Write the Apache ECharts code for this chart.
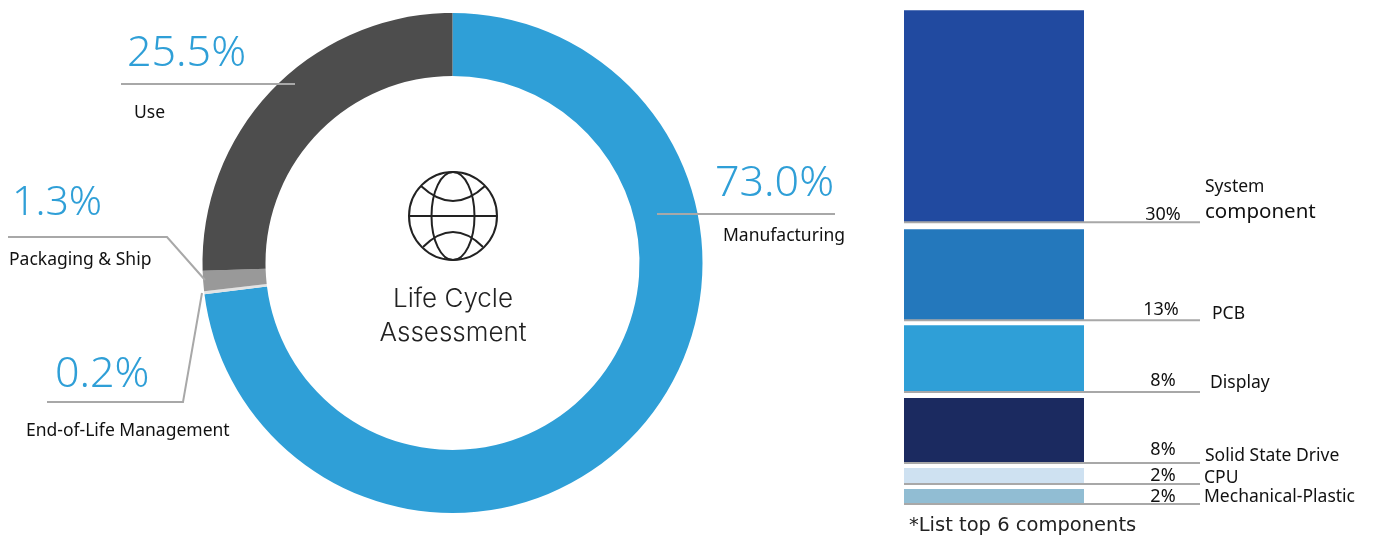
<!DOCTYPE html>
<html>
<head>
<meta charset="utf-8">
<title>Life Cycle Assessment</title>
<script src="https://cdn.jsdelivr.net/npm/echarts@6/dist/echarts.min.js"></script>
<style>
  html, body { margin: 0; padding: 0; background: #fff; }
  #main { width: 1373px; height: 538px; }
</style>
</head>
<body>
<div id="main"></div>
<script>
/* life cycle ring, clockwise from 12 o'clock */
var stageNames = ['Manufacturing', 'End-of-Life Management', 'Packaging & Ship', 'Use'];
var stageValues = [73.0, 0.2, 1.3, 25.5];

/* top 6 components, top of the column first */
var componentNames = ['System\ncomponent', 'PCB', 'Display', 'Solid State Drive', 'CPU', 'Mechanical-Plastic'];
var componentLabels = ['30%', '13%', '8%', '8%', '2%', '2%'];
// drawn block heights: the blocks are not strictly to scale
var componentHeights = [30, 12.88, 9.48, 9.2, 2.26, 2.12];
// white space under each block except the last, same units
var componentGaps = [0.99, 0.71, 0.85, 0.71, 0.71];

var stageColors = ['#2f9fd7', '#e3e3e3', '#999999', '#4d4d4d'];
var componentColors = ['#214aa0', '#2478bc', '#2f9fd7', '#1b2a60', '#cee1f1', '#91bdd3'];
var blue = '#2f9fd7';
var leaderColor = '#a8a8a8';
var bodyFont = '"Noto Sans"';
var axisMax = 69.96;

// where each ring label sits and how its leader runs
var stageLabelLayout = {
  'Manufacturing': { x: 713, y: 154, pctSize: 43, nameHeight: 44, namePad: 10, pctPad: 2, line: [[657, 214], [835, 214]] },
  'End-of-Life Management': { x: 26, y: 345, pctSize: 43, nameHeight: 52, namePad: 0, pctPad: 29, line: [[47, 402], [183, 402], [202, 293]] },
  'Packaging & Ship': { x: 9, y: 173, pctSize: 41, nameHeight: 54, namePad: 0, pctPad: 3, line: [[8, 237], [167, 237], [205, 280]] },
  'Use': { x: 125, y: 24, pctSize: 43, nameHeight: 58, namePad: 9, pctPad: 2, line: [[121, 84], [295, 84]] }
};
// label offsets next to the component leaders
var nameOffsets = [[0, -23], [7, -6], [5, -9.5], [0, -7], [-1, -6], [-1, -7]];
var pctOffsets = [[0, 7], [-2, 4], [0, 3], [0, 1], [0, 6], [0, 7]];

document.addEventListener('DOMContentLoaded', function () {
  var chartDom = document.getElementById('main');
  var myChart = echarts.init(chartDom);

  var ring = {
    type: 'pie',
    center: [452.5, 263],
    radius: [187, 250],
    startAngle: 90,
    silent: true
  };

  var series = [
    Object.assign({}, ring, {
      z: 2,
      label: { show: false },
      labelLine: { show: false },
      data: stageNames.map(function (name, i) {
        return { name: name, value: stageValues[i], itemStyle: { color: stageColors[i] } };
      })
    }),
    // same ring again, see-through, so the leaders lie on top of the coloured one
    Object.assign({}, ring, {
      z: 4,
      itemStyle: { color: 'transparent' },
      data: stageNames.map(function (name, i) {
        var layout = stageLabelLayout[name];
        return {
          name: name,
          value: stageValues[i],
          label: {
            rich: {
              pct: { fontFamily: bodyFont, fontSize: layout.pctSize, fontWeight: 300, color: blue, lineHeight: 60, padding: [0, 0, 0, layout.pctPad] },
              nm: { fontFamily: bodyFont, fontSize: 17.5, color: '#111', lineHeight: layout.nameHeight, padding: [0, 0, 0, layout.namePad] }
            }
          }
        };
      }),
      label: {
        show: true,
        position: 'outside',
        overflow: 'none',
        formatter: function (p) {
          return '{pct|' + p.value.toFixed(1) + '%}\n{nm|' + p.name + '}';
        }
      },
      labelLine: {
        show: true,
        lineStyle: { color: leaderColor, width: 2 }
      },
      labelLayout: function (params) {
        var layout = stageLabelLayout[stageNames[params.dataIndex]];
        return {
          x: layout.x,
          y: layout.y,
          align: 'left',
          verticalAlign: 'top',
          labelLinePoints: layout.line
        };
      }
    })
  ];

  // column stacks from the bottom, so walk the lists backwards
  var level = 0;
  for (var i = componentHeights.length - 1; i >= 0; i--) {
    series.push({
      type: 'bar',
      stack: 'components',
      xAxisIndex: 0,
      yAxisIndex: 0,
      barWidth: '100%',
      silent: true,
      itemStyle: { color: componentColors[i] },
      data: [componentHeights[i]]
    });
    // leader under the block, with its share and name
    var nameLines = componentNames[i].split('\n');
    series.push({
      type: 'line',
      xAxisIndex: 1,
      yAxisIndex: 1,
      clip: false,
      silent: true,
      symbolSize: 0,
      showAllSymbol: true,
      lineStyle: { color: leaderColor, width: 2 },
      z: 3,
      data: [
        { value: [0, level] },
        {
          value: [0.875, level],
          label: {
            show: true,
            position: 'top',
            offset: pctOffsets[i],
            formatter: componentLabels[i],
            fontFamily: bodyFont,
            fontSize: 18,
            color: '#111'
          }
        },
        {
          value: [1, level],
          label: {
            show: true,
            position: 'right',
            offset: nameOffsets[i],
            // the second line of a wrapped name runs wider in the picture
            formatter: nameLines.length > 1 ? nameLines[0] + '\n{wide|' + nameLines[1] + '}' : nameLines[0],
            fontFamily: bodyFont,
            fontSize: 17.5,
            lineHeight: 25,
            color: '#111',
            rich: {
              wide: { fontFamily: bodyFont, fontSize: 20.5, lineHeight: 25, color: '#111' }
            }
          }
        }
      ]
    });
    level += componentHeights[i];
    if (i > 0) {
      series.push({
        type: 'bar',
        stack: 'components',
        xAxisIndex: 0,
        yAxisIndex: 0,
        barWidth: '100%',
        silent: true,
        itemStyle: { color: 'transparent' },
        data: [componentGaps[i - 1]]
      });
      level += componentGaps[i - 1];
    }
  }

  var hiddenValue = function (max) {
    return { type: 'value', min: 0, max: max, show: false };
  };

  var globeStyle = { fill: 'none', stroke: '#222', lineWidth: 2 };

  var option = {
    animation: false,
    backgroundColor: '#fff',
    grid: [
      { left: 904, top: 10, width: 180, height: 494 },
      { left: 904, top: 10, width: 296, height: 494 }
    ],
    xAxis: [
      { type: 'category', gridIndex: 0, data: ['components'], show: false },
      Object.assign(hiddenValue(1), { gridIndex: 1 })
    ],
    yAxis: [
      Object.assign(hiddenValue(axisMax), { gridIndex: 0 }),
      Object.assign(hiddenValue(axisMax), { gridIndex: 1 })
    ],
    series: series,
    graphic: [
      { type: 'circle', silent: true, shape: { cx: 453, cy: 216, r: 44 }, style: globeStyle },
      { type: 'ellipse', silent: true, shape: { cx: 453, cy: 216, rx: 21.5, ry: 44 }, style: globeStyle },
      { type: 'line', silent: true, shape: { x1: 409, y1: 216, x2: 497, y2: 216 }, style: globeStyle },
      { type: 'bezierCurve', silent: true, shape: { x1: 421, y1: 186, cpx1: 453, cpy1: 216, x2: 485, y2: 186 }, style: globeStyle },
      { type: 'bezierCurve', silent: true, shape: { x1: 423, y1: 247, cpx1: 453, cpy1: 217, x2: 483, y2: 247 }, style: globeStyle },
      {
        type: 'text',
        silent: true,
        x: 453,
        y: 299,
        style: { text: 'Life Cycle', fontFamily: 'Inter', fontWeight: 300, fontSize: 26, fill: '#222', align: 'center', verticalAlign: 'middle' }
      },
      {
        type: 'text',
        silent: true,
        x: 453,
        y: 333,
        style: { text: 'Assessment', fontFamily: 'Inter', fontWeight: 300, fontSize: 26, fill: '#222', align: 'center', verticalAlign: 'middle' }
      },
      {
        type: 'text',
        silent: true,
        x: 909,
        y: 526,
        style: { text: '*List top 6 components', fontFamily: '"DejaVu Sans"', fontSize: 19.5, fill: '#222', align: 'left', verticalAlign: 'middle' }
      }
    ]
  };

  option && myChart.setOption(option);
});
</script>
</body>
</html>
